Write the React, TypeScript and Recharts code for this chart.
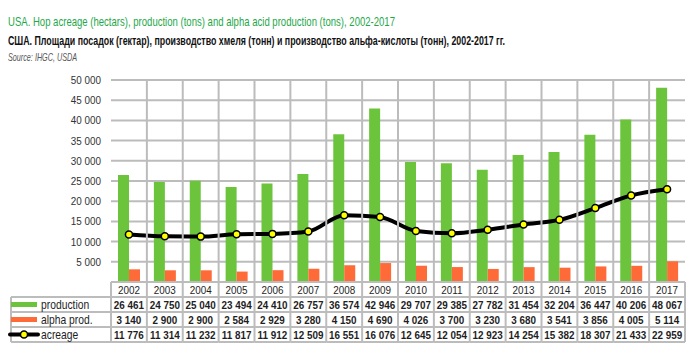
import React from "react";
import {
  ComposedChart,
  Bar,
  Line,
  XAxis,
  YAxis,
  CartesianGrid,
} from "recharts";

const years = [
  "2002", "2003", "2004", "2005", "2006", "2007", "2008", "2009",
  "2010", "2011", "2012", "2013", "2014", "2015", "2016", "2017",
];
const production = [
  26461, 24750, 25040, 23494, 24410, 26757, 36574, 42946,
  29707, 29385, 27782, 31454, 32204, 36447, 40206, 48067,
];
const alphaProd = [
  3140, 2900, 2900, 2584, 2929, 3280, 4150, 4690,
  4026, 3700, 3230, 3680, 3541, 3856, 4005, 5114,
];
const acreage = [
  11776, 11314, 11232, 11817, 11912, 12509, 16551, 16076,
  12645, 12054, 12923, 14254, 15382, 18307, 21433, 22959,
];
const yTicks = [0, 5000, 10000, 15000, 20000, 25000, 30000, 35000, 40000, 45000, 50000];

const GREEN = "#6cc43c";
const ORANGE = "#ff6b38";
const GRID = "#bcbcbc";
const TEXT = "#1e1e1e";
const FONT = '"Liberation Sans", Arial, sans-serif';

const W = 700;
const H = 355;
const PLOT_LEFT = 111;
const PLOT_RIGHT = 685;
const PLOT_TOP = 80;
const PLOT_BOTTOM = 282;
const BW = (PLOT_RIGHT - PLOT_LEFT) / years.length;
const ROW = 15;
const SQ = 0.86; // horizontal squeeze to mimic the narrow font

const fmt = (n: number) => String(n).replace(/\B(?=(\d{3})+(?!\d))/g, " ");

const data = years.map((y, i) => ({
  year: y,
  production: production[i],
  alpha: alphaProd[i],
  acreage: acreage[i],
}));

// squeezed text
function SText({ x, y, children, anchor = "middle", bold = false, size = 11, fill = TEXT }: any) {
  return (
    <text
      transform={`translate(${x},${y}) scale(${SQ},1)`}
      textAnchor={anchor}
      fontSize={size}
      fontWeight={bold ? "bold" : "normal"}
      fill={fill}
      style={{ fontFamily: FONT }}
    >
      {children}
    </text>
  );
}

function YTick(props: any) {
  const { x, y, payload } = props;
  if (payload.value === 0) return <g />;
  return (
    <SText x={x} y={y + 4} anchor="end" size={11.5} fill="#333">
      {fmt(payload.value)}
    </SText>
  );
}

// x-axis tick draws one column of the data table under the plot
function TableTick(props: any) {
  const { x, y, index } = props;
  const i = index ?? props.payload?.index ?? 0;
  const left = x - BW / 2;
  const right = x + BW / 2;
  const rows = [production[i], alphaProd[i], acreage[i]];
  const bottom = y + ROW * 4;
  return (
    <g>
      {/* column borders */}
      <line
        x1={right}
        x2={right}
        y1={i < years.length - 1 ? PLOT_TOP : y}
        y2={bottom}
        stroke={GRID}
        strokeWidth={2}
      />
      {i === 0 && (
        <line x1={left} x2={left} y1={y} y2={bottom} stroke={GRID} strokeWidth={2} />
      )}
      {[0, 1, 2, 3, 4].map((r) => (
        <line
          key={r}
          x1={left}
          x2={right}
          y1={y + r * ROW}
          y2={y + r * ROW}
          stroke={GRID}
          strokeWidth={2}
        />
      ))}
      <SText x={x} y={y + 12} size={11.5}>
        {years[i]}
      </SText>
      {rows.map((v, r) => (
        <SText key={r} x={x} y={y + ROW * (r + 1) + 12} size={11.5} bold>
          {fmt(v)}
        </SText>
      ))}

      {/* legend column */}
      {i === 0 && (
        <g>
          {[1, 2, 3, 4].map((r) => (
            <line
              key={r}
              x1={11}
              x2={left}
              y1={y + r * ROW}
              y2={y + r * ROW}
              stroke={GRID}
              strokeWidth={2}
            />
          ))}
          <line x1={11} x2={11} y1={y + ROW} y2={bottom} stroke={GRID} strokeWidth={2} />
          <rect x={11} y={y + ROW + 5} width={26} height={5} fill={GREEN} />
          <rect x={11} y={y + ROW * 2 + 5} width={26} height={5} fill={ORANGE} />
          <line
            x1={10}
            x2={38}
            y1={y + ROW * 3 + 7.5}
            y2={y + ROW * 3 + 7.5}
            stroke="#000"
            strokeWidth={4}
            strokeLinecap="round"
          />
          <circle cx={24} cy={y + ROW * 3 + 7.5} r={3.5} fill="#ffff00" stroke="#000" strokeWidth={1.5} />
          {["production", "alpha prod.", "acreage"].map((t, r) => (
            <SText key={t} x={41} y={y + ROW * (r + 1) + 12} size={12} anchor="start">
              {t}
            </SText>
          ))}
        </g>
      )}
    </g>
  );
}

export default function App() {
  return (
    <div
      style={{
        position: "absolute",
        left: 0,
        top: 0,
        width: W,
        height: H,
        background: "#fff",
        fontFamily: FONT,
      }}
    >
      <div style={{ position: "absolute", left: 0, top: 0 }}>
        <ComposedChart
          width={W}
          height={H}
          data={data}
          margin={{ top: PLOT_TOP, right: W - PLOT_RIGHT, bottom: 0, left: PLOT_LEFT - 60 }}
          barGap={0}
        >
          <CartesianGrid vertical={false} stroke={GRID} strokeWidth={2} />
          <XAxis
            dataKey="year"
            height={H - PLOT_BOTTOM}
            axisLine={false}
            tickLine={false}
            tickSize={0}
            tickMargin={0}
            interval={0}
            tick={(p: any) => <TableTick {...p} />}
          />
          <YAxis
            width={60}
            domain={[0, 50000]}
            ticks={yTicks}
            interval={0}
            axisLine={false}
            tickLine={false}
            tickSize={0}
            tickMargin={10}
            tick={(p: any) => <YTick {...p} />}
          />
          <Bar dataKey="production" fill={GREEN} barSize={11} isAnimationActive={false} />
          <Bar dataKey="alpha" fill={ORANGE} barSize={11} isAnimationActive={false} />
          <Line
            dataKey="acreage"
            type="monotone"
            stroke="#000"
            strokeWidth={4}
            dot={{ r: 3.5, fill: "#ffff00", stroke: "#000", strokeWidth: 1.5 }}
            isAnimationActive={false}
          />
        </ComposedChart>
      </div>

      <svg width={W} height={70} style={{ position: "absolute", left: 0, top: 0 }}>
        <text
          x={8}
          y={26}
          fontSize={13.5}
          fill="#1ea84a"
          textLength={387}
          lengthAdjust="spacingAndGlyphs"
          style={{ fontFamily: FONT }}
        >
          USA. Hop acreage (hectars), production (tons) and alpha acid production (tons), 2002-2017
        </text>
        <text
          x={8}
          y={45}
          fontSize={12}
          fontWeight="bold"
          fill="#111"
          textLength={497}
          lengthAdjust="spacingAndGlyphs"
          style={{ fontFamily: FONT }}
        >
          США. Площади посадок (гектар), производство хмеля (тонн) и производство альфа-кислоты (тонн), 2002-2017 гг.
        </text>
        <text
          x={8}
          y={61}
          fontSize={10.5}
          fontStyle="italic"
          fill="#555"
          textLength={69}
          lengthAdjust="spacingAndGlyphs"
          style={{ fontFamily: FONT }}
        >
          Source: IHGC, USDA
        </text>
      </svg>
    </div>
  );
}
